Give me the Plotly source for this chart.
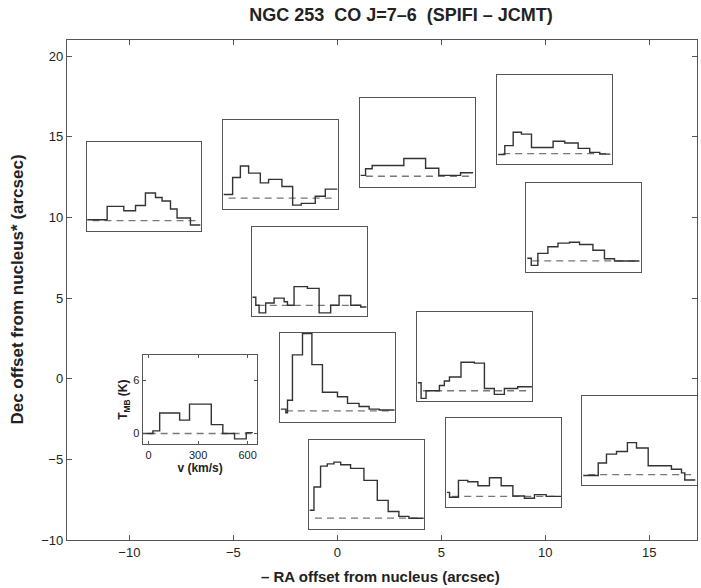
import plotly.graph_objects as go

# pointing offsets of the spectra (arcsec): - RA, Dec of each box centre
RA_OFF = [-9.3, -2.75, 3.85, 10.45, 11.85, -1.35, -6.6, 0.0, 6.6, 1.4, 8.0, 14.54]
DEC_OFF = [11.9, 13.3, 14.65, 16.05, 9.4, 6.65, -1.3, 0.1, 1.35, -6.55, -5.2, -3.85]

# spectra: velocity step edges (km/s) and main-beam temperatures (K)
V01 = [-32, 89, 190, 261, 321, 382, 422, 473, 513, 594, 654]
T01 = [0.1, 1.6, 1.1, 1.7, 3.1, 2.6, 2.2, 1.3, 0.3, -0.5]
V02 = [-30, 24, 71, 121, 192, 242, 323, 388, 440, 525, 586, 660]
T02 = [0.4, 2.3, 3.6, 2.8, 1.7, 2.1, 1.3, -0.8, -0.6, 0.2, 1.0]
V03 = [-32, -2, 38, 230, 362, 442, 574, 650]
T03 = [0.1, 0.85, 1.2, 2.0, 0.9, 0.1, 0.4]
V04 = [-30, 10, 61, 111, 172, 303, 374, 455, 525, 586, 650]
T04 = [-0.1, 0.9, 2.4, 2.2, 0.7, 1.4, 1.2, 0.6, 0.15, -0.05]
V05 = [-30, -6, 34, 95, 156, 226, 287, 368, 438, 499, 650]
T05 = [0.3, -0.5, 0.85, 1.6, 2.0, 2.1, 1.85, 1.2, 0.25, 0.0]
V06 = [-32, -12, 8, 48, 99, 160, 180, 220, 301, 372, 442, 493, 564, 624, 660]
T06 = [0.9, 0.0, -0.85, 0.25, 0.8, 0.4, 0.0, 2.1, 1.9, -0.85, 0.0, 1.1, 0.0, -0.2]
V07 = [-35, 26, 67, 188, 248, 380, 450, 521, 592, 632]
T07 = [0.0, 0.3, 2.3, 1.5, 3.3, 1.0, 0.0, -0.6, 0.1]
V08 = [-30, 0, 10, 40, 101, 158, 222, 313, 374, 444, 505, 566, 660]
T08 = [0.2, -0.2, 1.2, 6.3, 8.7, 5.2, 2.1, 1.6, 0.85, 0.5, 0.2, 0.1]
V09 = [-32, -12, 18, 99, 129, 160, 230, 311, 372, 432, 493, 574, 660]
T09 = [0.9, -0.85, 0.0, 0.6, 1.1, 1.55, 3.2, 3.1, 0.25, -0.4, 0.25, 0.45]
V10 = [-32, -6, 34, 75, 115, 156, 216, 297, 378, 444, 509, 570, 660]
T10 = [0.9, 3.5, 5.85, 6.1, 6.3, 6.0, 5.6, 4.25, 2.0, 0.75, 0.2, 0.0]
V11 = [-32, -16, 38, 95, 156, 226, 297, 368, 438, 499, 570, 660]
T11 = [0.45, -0.1, 1.8, 1.65, 1.2, 2.1, 1.2, 0.05, -0.2, 0.2, 0.0]
V12 = [-30, 61, 111, 172, 238, 293, 364, 505, 566, 586, 650]
T12 = [-0.1, 1.3, 2.3, 2.6, 3.6, 3.0, 1.0, 0.6, 0.2, -0.6]

SPECTRA = [(V01, T01), (V02, T02), (V03, T03), (V04, T04), (V05, T05), (V06, T06),
           (V07, T07), (V08, T08), (V09, T09), (V10, T10), (V11, T11), (V12, T12)]
BASE_V = [0, 640]
BASE_T = [0, 0]

X_RANGE = [-13, 17.3]
Y_RANGE = [-10, 21]
BOX = 5.52          # inset size in arcsec
V_RANGE = [-36, 660]
T_RANGE = [-1.2, 8.8]
LABELLED = 6        # inset that carries the axis scale

FONT = "Liberation Sans, Arial, sans-serif"
FRAME = "#555555"
LINE = "#333333"

fig = go.Figure()
# empty trace so the main axes exist
fig.add_trace(go.Scatter(x=[None], y=[None], xaxis="x", yaxis="y", showlegend=False))

def to_paper(val, rng):
    return min(max((val - rng[0]) / (rng[1] - rng[0]), 0.0), 1.0)

for i, (v, t) in enumerate(SPECTRA):
    k = i + 2
    fig.add_trace(go.Scatter(
        x=BASE_V, y=BASE_T, mode="lines",
        line=dict(color="#777777", width=1.3, dash="7px,5px"),
        xaxis=f"x{k}", yaxis=f"y{k}", showlegend=False, hoverinfo="skip"
    ))
    fig.add_trace(go.Scatter(
        x=v, y=t + [t[-1]], mode="lines",
        line=dict(color=LINE, width=1.4, shape="hv"),
        xaxis=f"x{k}", yaxis=f"y{k}", showlegend=False
    ))
    xdom = [to_paper(RA_OFF[i] - BOX / 2, X_RANGE), to_paper(RA_OFF[i] + BOX / 2, X_RANGE)]
    ydom = [to_paper(DEC_OFF[i] - BOX / 2, Y_RANGE), to_paper(DEC_OFF[i] + BOX / 2, Y_RANGE)]
    labelled = i == LABELLED
    xa = dict(domain=xdom, anchor=f"y{k}", range=V_RANGE, showline=True, mirror="ticks",
              linecolor=FRAME, linewidth=1.4, showgrid=False, zeroline=False,
              ticks="inside" if labelled else "", ticklen=3, tickcolor=FRAME,
              showticklabels=labelled, tickvals=[0, 300, 600],
              tickfont=dict(family=FONT, size=11, color="#222"))
    ya = dict(domain=ydom, anchor=f"x{k}", range=T_RANGE, showline=True, mirror="ticks",
              linecolor=FRAME, linewidth=1.4, showgrid=False, zeroline=False,
              ticks="inside" if labelled else "", ticklen=3, tickcolor=FRAME,
              showticklabels=labelled, tickvals=[0, 6],
              tickfont=dict(family=FONT, size=11, color="#222"))
    if labelled:
        xa["title"] = dict(text="<b>v (km/s)</b>", standoff=2,
                           font=dict(family=FONT, size=12, color="#222"))
        ya["title"] = dict(text="<b>T<sub>MB</sub> (K)</b>", standoff=2,
                           font=dict(family=FONT, size=12, color="#222"))
    fig.update_layout(**{f"xaxis{k}": xa, f"yaxis{k}": ya})

fig.update_layout(
    width=701, height=588,
    margin=dict(l=67, r=4, t=40, b=48),
    paper_bgcolor="white", plot_bgcolor="white",
    font=dict(family=FONT, size=13, color="#222"),
    title=dict(text="<b>NGC 253\u00a0\u00a0CO J=7\u20136\u00a0\u00a0(SPIFI \u2013 JCMT)</b>",
               x=0.572, xref="container", xanchor="center",
               y=1 - 15 / 588, yref="container", yanchor="middle",
               font=dict(family=FONT, size=18, color="#222")),
    xaxis=dict(range=X_RANGE, showline=True, mirror="ticks", linecolor=FRAME, linewidth=1.4,
               ticks="inside", ticklen=5, tickcolor=FRAME, tickvals=[-10, -5, 0, 5, 10, 15],
               showgrid=False, zeroline=False, tickfont=dict(size=13)),
    yaxis=dict(range=Y_RANGE, showline=True, mirror="ticks", linecolor=FRAME, linewidth=1.4,
               ticks="inside", ticklen=5, tickcolor=FRAME, tickvals=[-10, -5, 0, 5, 10, 15, 20],
               showgrid=False, zeroline=False, tickfont=dict(size=13)),
    annotations=[
        dict(text="<b>\u2013 RA offset from nucleus (arcsec)</b>", xref="paper", yref="paper",
             x=0.497, y=-0.072, xanchor="center", yanchor="middle", showarrow=False,
             font=dict(family=FONT, size=15, color="#222")),
        dict(text="<b>Dec offset from nucleus* (arcsec)</b>", xref="paper", yref="paper",
             x=-0.08, y=0.5, xanchor="center", yanchor="middle", textangle=-90, showarrow=False,
             font=dict(family=FONT, size=17, color="#222")),
    ],
)

fig.write_html("out.html", config={"displayModeBar": False},
               post_script="document.body.style.margin='0';document.body.style.overflow='hidden';")
